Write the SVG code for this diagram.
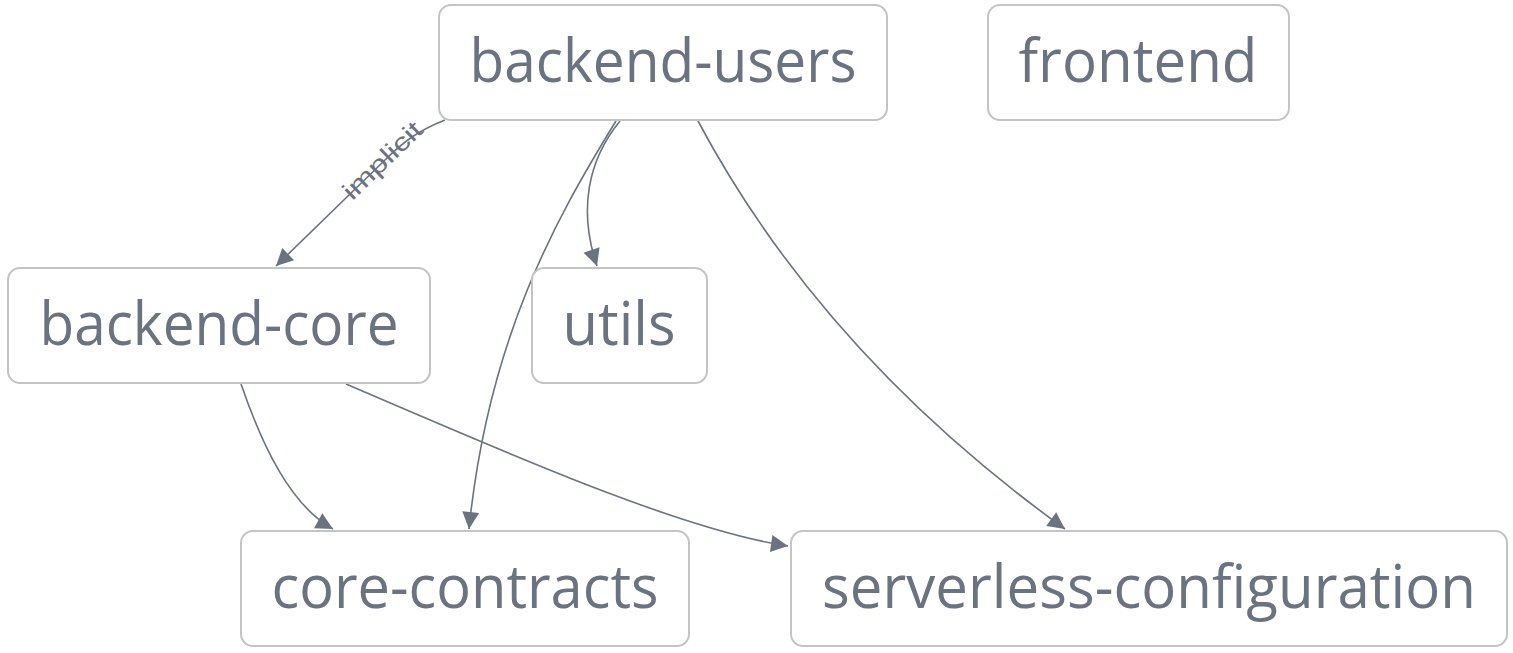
<svg xmlns="http://www.w3.org/2000/svg" width="1513" height="653" viewBox="0 0 1513 653">
<style>
.box{fill:#ffffff;stroke:#c4c4c4;stroke-width:2}
.lbl{font-family:"Open Sans","Liberation Sans",sans-serif;font-weight:400;font-size:61px;fill:#6b7280;text-anchor:middle}
.edge{fill:none;stroke:#6b7280;stroke-width:1.6}
.elbl{font-family:"Liberation Sans",Arial,sans-serif;font-size:25px;fill:#6b7280;text-anchor:middle;dominant-baseline:central}
</style>
<defs>
<marker id="arr" viewBox="0 0 10 10" refX="10" refY="5" markerWidth="10" markerHeight="10" markerUnits="userSpaceOnUse" orient="auto" style="overflow:visible">
<path d="M0,0 L10,5 L0,10 z" fill="#6b7280" transform="scale(1.7)" transform-origin="10 5"/>
</marker>
</defs>
<rect width="1513" height="653" fill="#ffffff"/>
<g id="connectors">
<path class="edge" marker-end="url(#arr)" d="M445,120 C420,130 405,140 385,160 L276,266"/>
<path class="edge" marker-end="url(#arr)" d="M620,121 C588,160 578,210 597,266"/>
<path class="edge" marker-end="url(#arr)" d="M616,121 C555,220 488,340 469,529"/>
<path class="edge" marker-end="url(#arr)" d="M698,121 C780,275 900,410 1065,529"/>
<path class="edge" marker-end="url(#arr)" d="M241,384 C262,445 290,505 333,529"/>
<path class="edge" marker-end="url(#arr)" d="M346,384 C500,450 680,530 788,546"/>
<text class="elbl" transform="translate(382,160) rotate(-44)" textLength="100" lengthAdjust="spacingAndGlyphs">implicit</text>
</g>
<g id="backend-users"><rect class="box" x="439" y="5" width="448" height="115" rx="12"/><text class="lbl" x="663" y="82" textLength="387" lengthAdjust="spacingAndGlyphs">backend-users</text></g>
<g id="frontend"><rect class="box" x="988" y="5" width="301" height="115" rx="12"/><text class="lbl" x="1138" y="82" textLength="239" lengthAdjust="spacingAndGlyphs">frontend</text></g>
<g id="backend-core"><rect class="box" x="8" y="268" width="422" height="115" rx="12"/><text class="lbl" x="219" y="345" textLength="359" lengthAdjust="spacingAndGlyphs">backend-core</text></g>
<g id="utils"><rect class="box" x="532" y="268" width="175" height="115" rx="12"/><text class="lbl" x="619" y="345" textLength="113" lengthAdjust="spacingAndGlyphs">utils</text></g>
<g id="core-contracts"><rect class="box" x="241" y="531" width="448" height="115" rx="12"/><text class="lbl" x="465" y="608" textLength="387" lengthAdjust="spacingAndGlyphs">core-contracts</text></g>
<g id="serverless-configuration"><rect class="box" x="791" y="531" width="716" height="115" rx="12"/><text class="lbl" x="1149" y="608" textLength="654" lengthAdjust="spacingAndGlyphs">serverless-configuration</text></g>
</svg>
